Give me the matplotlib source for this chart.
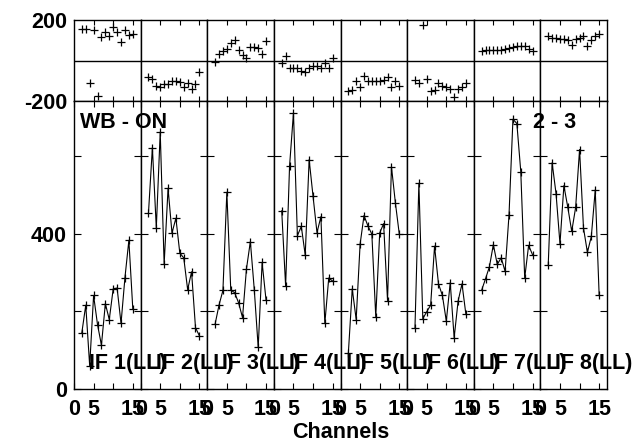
import matplotlib
matplotlib.use('Agg')
import matplotlib.pyplot as plt

plt.rcParams['font.family'] = ['Liberation Sans', 'DejaVu Sans']
plt.rcParams['font.weight'] = 'bold'

# channel numbers and per-IF data (phase in deg, amplitude)
channels = [2, 3, 4, 5, 6, 7, 8, 9, 10, 11, 12, 13, 14, 15]

amp_1 = [145, 216, 60, 241, 166, 113, 220, 179, 258, 260, 169, 287, 383, 207]
amp_2 = [453, 622, 415, 662, 322, 517, 402, 440, 350, 338, 256, 302, 158, 137]
amp_3 = [167, 216, 254, 507, 255, 248, 222, 184, 309, 380, 256, 107, 326, 229]
amp_4 = [459, 265, 574, 712, 395, 419, 345, 591, 496, 403, 444, 169, 286, 278]
amp_5 = [92, 258, 179, 373, 447, 420, 399, 186, 402, 426, 228, 573, 480, 399]
amp_6 = [157, 530, 181, 199, 216, 368, 271, 241, 175, 274, 132, 226, 271, 192]
amp_7 = [254, 284, 315, 372, 321, 338, 303, 449, 695, 684, 560, 286, 370, 346]
amp_8 = [319, 583, 503, 374, 524, 468, 406, 468, 617, 415, 352, 393, 513, 241]

phase_1 = [157, 157, -109, 152, -175, 115, 141, 120, 165, 143, 91, 152, 124, 130]
phase_2 = [-83, -89, -124, -129, -117, -116, -101, -101, -104, -132, -112, -142, -116, -59]
phase_3 = [-7, 33, 45, 56, 86, 99, 53, 28, 12, 69, 69, 61, 33, 96]
phase_4 = [-13, 20, -38, -38, -38, -54, -59, -35, -26, -26, -38, -10, -38, 12]
phase_5 = [-153, -145, -99, -132, -76, -101, -101, -101, -101, -96, -83, -132, -101, -125]
phase_6 = [-96, -112, 177, -91, -153, -148, -109, -125, -132, -142, -178, -142, -129, -112]
phase_7 = [45, 50, 53, 53, 53, 53, 56, 61, 69, 73, 73, 73, 56, 45]
phase_8 = [119, 111, 111, 106, 106, 99, 78, 106, 111, 122, 73, 102, 119, 132]

if_labels = ['IF 1(LL)', 'IF 2(LL)', 'IF 3(LL)', 'IF 4(LL)',
             'IF 5(LL)', 'IF 6(LL)', 'IF 7(LL)', 'IF 8(LL)']

amps = [amp_1, amp_2, amp_3, amp_4, amp_5, amp_6, amp_7, amp_8]
phases = [phase_1, phase_2, phase_3, phase_4, phase_5, phase_6, phase_7, phase_8]

W, H = 643, 445
fig = plt.figure(figsize=(W / 100, H / 100), dpi=100)

fs = 15.5
x0 = 74.0
pw = (607.0 - 74.0) / 8
y_top, y_mid, y_bot = 20.0, 101.0, 389.0

for i in range(8):
    left = (x0 + i * pw) / W
    width = pw / W

    # phase panel
    axp = fig.add_axes([left, 1 - y_mid / H, width, (y_mid - y_top) / H])
    axp.plot(channels, phases[i], '+', color='black', ms=6, mew=0.9)
    axp.axhline(0, color='black', lw=1.0)
    axp.set_xlim(0, 17)
    axp.set_ylim(-200, 200)
    axp.set_xticks([5, 10, 15])
    axp.set_xticklabels([])
    axp.tick_params(axis='x', direction='in', top=True, bottom=True, length=3.5, width=0.8)
    axp.set_yticks([-200, 200])
    axp.tick_params(axis='y', length=0, labelsize=fs, pad=5)
    if i == 0:
        axp.set_yticklabels(['-200', '200'])
    else:
        axp.set_yticklabels([])

    # amplitude panel
    axa = fig.add_axes([left, 1 - y_bot / H, width, (y_bot - y_mid) / H])
    axa.plot(channels, amps[i], '-', color='black', lw=0.8)
    axa.plot(channels, amps[i], '+', color='black', ms=6, mew=0.9)
    axa.set_xlim(0, 17)
    axa.set_ylim(0, 742)
    axa.set_xticks([0, 5, 10, 15])
    axa.set_xticklabels(['0', '5', '', '15'])
    axa.tick_params(axis='x', direction='in', top=True, length=4, width=0.8,
                    labelsize=fs, pad=7)
    axa.set_yticks([0, 200, 400, 600])
    axa.tick_params(axis='y', direction='in', right=True, length=5, width=0.8,
                    labelsize=fs, pad=5)
    if i == 0:
        axa.set_yticklabels(['0', '', '400', ''])
    else:
        axa.set_yticklabels([])

    for ax in (axp, axa):
        for sp in ax.spines.values():
            sp.set_linewidth(1.0)

    fig.text((x0 + i * pw + 15) / W, 1 - 369 / H, if_labels[i],
             fontsize=fs, fontweight='bold', ha='left', va='baseline')

fig.text(80 / W, 1 - 128 / H, 'WB - ON', fontsize=fs, fontweight='bold',
         ha='left', va='baseline')
fig.text(533 / W, 1 - 128 / H, '2 - 3', fontsize=fs, fontweight='bold',
         ha='left', va='baseline')
fig.text((x0 + 4 * pw) / W, 1 - 438 / H, 'Channels', fontsize=fs,
         fontweight='bold', ha='center', va='baseline')

fig.savefig('out.png', dpi=100)
